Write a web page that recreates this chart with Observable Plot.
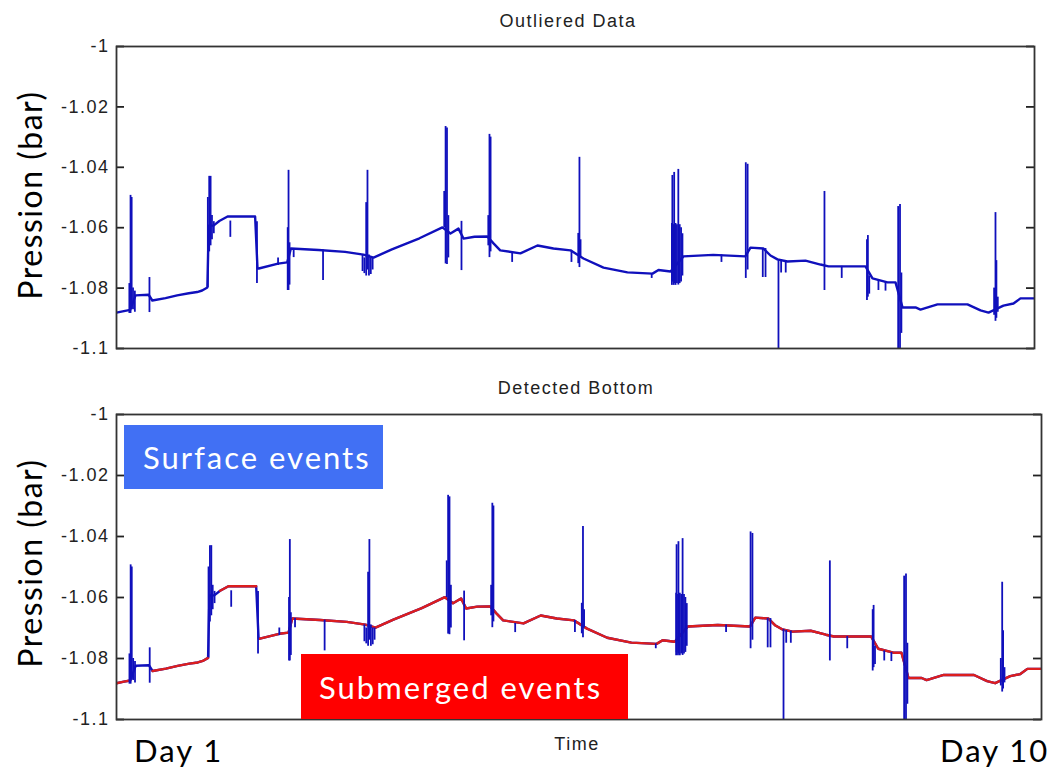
<!DOCTYPE html>
<html><head><meta charset="utf-8">
<script src="https://cdn.jsdelivr.net/npm/d3@7"></script>
<script src="https://cdn.jsdelivr.net/npm/@observablehq/plot@0.6"></script>
<style>
body{margin:0;background:#fff;}
#wrap{position:relative;width:1059px;height:771px;overflow:hidden;background:#fff;}
.panel{position:absolute;left:0;}
.mt{position:absolute;font-family:"Liberation Sans",Arial,sans-serif;font-size:18px;letter-spacing:1.5px;color:#222;transform:translateX(-50%);white-space:nowrap;}
.ylab{position:absolute;font-family:Lato,"Open Sans",sans-serif;font-size:32px;letter-spacing:1.5px;color:#000;transform:translate(-50%,-50%) rotate(-90deg);white-space:nowrap;}
.box{position:absolute;color:#fff;font-family:Lato,"Open Sans",sans-serif;font-size:31px;letter-spacing:2px;display:flex;align-items:center;box-sizing:border-box;white-space:nowrap;}
.day{position:absolute;font-family:Lato,"Open Sans",sans-serif;font-size:31px;letter-spacing:2px;color:#000;white-space:nowrap;}
</style></head>
<body>
<div id="wrap">
  <div id="p1" class="panel" style="top:0px"></div>
  <div id="p2" class="panel" style="top:370px"></div>
  <div class="mt" style="left:568px;top:11px">Outliered Data</div>
  <div class="mt" style="left:576px;top:378px">Detected Bottom</div>
  <div class="mt" style="left:577px;top:734px">Time</div>
  <div class="ylab" style="left:29px;top:195px">Pression (bar)</div>
  <div class="ylab" style="left:29px;top:563px">Pression (bar)</div>
  <div class="box" style="left:124px;top:425px;width:259px;height:64px;background:#4170f4;padding-left:19px">Surface events</div>
  <div class="box" style="left:301px;top:654px;width:327px;height:65px;background:#ff0000;padding-left:18px">Submerged events</div>
  <div class="day" style="left:134px;top:731px">Day 1</div>
  <div class="day" style="left:940px;top:731px">Day 10</div>
</div>
<script>
// Time index (0 = start of record, 1000 = end), pressure in bar
const baseT = [0, 8, 15, 20.7, 35, 39, 53.4, 66.1, 78.8, 87.9, 93.3, 99, 100.5, 105.7, 112, 121, 151, 153.6, 155, 176, 186, 190, 220, 249, 269, 280, 300, 330, 355, 363.8, 372.5, 378, 390, 404, 410.7, 418, 440, 458.6, 476, 494.5, 508.7, 530.5, 556.6, 583.9, 590.4, 603.5, 617.6, 650, 685, 690.6, 704.8, 712.4, 720, 730.9, 750.5, 766.9, 775.6, 815.9, 823.5, 839.9, 848.6, 856.2, 870.4, 875.8, 894.3, 927, 941.2, 949.9, 966.2, 977.1, 984.7, 1000];
const baseP = [-1.0881, -1.0876, -1.0872, -1.0824, -1.0822, -1.0841, -1.0833, -1.0824, -1.0817, -1.0813, -1.0808, -1.0798, -1.0593, -1.0593, -1.0578, -1.0563, -1.0563, -1.0735, -1.0735, -1.0719, -1.0715, -1.0669, -1.0674, -1.0680, -1.0689, -1.0699, -1.0672, -1.0635, -1.0599, -1.0619, -1.0603, -1.0636, -1.0630, -1.0629, -1.0652, -1.0675, -1.0685, -1.0659, -1.0669, -1.0675, -1.0702, -1.0732, -1.0748, -1.0752, -1.0740, -1.0745, -1.0695, -1.0690, -1.0695, -1.0666, -1.0669, -1.0692, -1.0705, -1.0712, -1.0709, -1.0722, -1.0728, -1.0728, -1.0768, -1.0781, -1.0781, -1.0864, -1.0864, -1.0871, -1.0854, -1.0854, -1.0874, -1.0881, -1.0858, -1.0851, -1.0834, -1.0834];
// "B" = submerged (bottom detected), "S" = surface
const baseState = ["B","B","B","S","S","B","B","B","B","B","B","B","S","S","B","B","B","S","B","B","B","B","B","B","B","B","B","B","B","B","B","B","B","B","B","B","B","B","B","B","B","B","B","B","B","B","B","B","B","B","B","B","B","B","B","B","B","B","B","B","B","B","B","B","B","B","B","B","B","B","B","B"];

// Surface events and outliers: vertical excursions (time, lowest pressure, highest pressure)
const spikeT    = [14, 15.3, 16.5, 18, 20, 35.9, 99.5, 101, 102.5, 104, 106, 124, 153, 176, 186.5, 187.4, 188.5, 193, 225, 268, 270, 272, 273.4, 275, 277, 279, 357, 358.5, 360, 361.5, 375.8, 405, 406.3, 407.5, 431, 495.6, 503, 504.3, 505.5, 583, 605, 605.5, 607, 607.5, 609, 610.5, 612, 613.5, 615, 616.5, 659, 685.5, 687.5, 704, 707, 721.1, 724, 729, 771.2, 790, 817.5, 818.5, 820, 830, 837.7, 851.5, 853.5, 855, 956, 957.5, 958.5, 960];
const spikeLow  = [-1.0884, -1.0884, -1.0870, -1.0872, -1.0880, -1.0881, -1.0798, -1.0680, -1.0660, -1.0640, -1.0620, -1.0632, -1.0785, -1.0725, -1.0808, -1.0808, -1.0790, -1.0699, -1.0775, -1.0745, -1.0752, -1.0760, -1.0740, -1.0760, -1.0755, -1.0740, -1.0600, -1.0720, -1.0722, -1.0700, -1.0742, -1.0660, -1.0699, -1.0680, -1.0715, -1.0715, -1.0719, -1.0732, -1.0700, -1.0768, -1.0791, -1.0780, -1.0791, -1.0785, -1.0791, -1.0785, -1.0790, -1.0785, -1.0780, -1.0760, -1.0715, -1.0768, -1.0740, -1.0765, -1.0765, -1.1000, -1.0750, -1.0750, -1.0808, -1.0768, -1.0841, -1.0830, -1.0820, -1.0808, -1.0810, -1.1000, -1.1000, -1.0950, -1.0890, -1.0910, -1.0900, -1.0880];
const spikeHigh = [-1.0785, -1.0493, -1.0500, -1.0800, -1.0810, -1.0765, -1.0500, -1.0430, -1.0430, -1.0560, -1.0580, -1.0578, -1.0580, -1.0700, -1.0600, -1.0410, -1.0650, -1.0669, -1.0674, -1.0690, -1.0700, -1.0517, -1.0410, -1.0690, -1.0700, -1.0700, -1.0480, -1.0265, -1.0270, -1.0560, -1.0579, -1.0560, -1.0291, -1.0300, -1.0685, -1.0675, -1.0619, -1.0367, -1.0640, -1.0752, -1.0586, -1.0427, -1.0590, -1.0417, -1.0586, -1.0590, -1.0407, -1.0590, -1.0600, -1.0620, -1.0690, -1.0385, -1.0390, -1.0669, -1.0669, -1.0705, -1.0708, -1.0710, -1.0480, -1.0728, -1.0640, -1.0626, -1.0760, -1.0775, -1.0780, -1.0530, -1.0523, -1.0750, -1.0800, -1.0550, -1.0709, -1.0830];

const yTicks = [-1, -1.02, -1.04, -1.06, -1.08, -1.1];
const yTickLabels = ["-1", "-1.02", "-1.04", "-1.06", "-1.08", "-1.1"];

const base = baseT.map((t, i) => ({t, p: baseP[i], s: baseState[i]}));
const spikes = spikeT.map((t, i) => ({t, low: spikeLow[i], high: spikeHigh[i]}));

const BLUE = "#1010bc";
const RED = "#dc1e1e";
const TICK = 8;

function panel(opts, bottom) {
  const fmt = d => yTickLabels[yTicks.findIndex(v => Math.abs(v - d) < 1e-9)];
  const innerW = 1059 - 116 - opts.mr;
  return Plot.plot({
    width: 1059, height: 360,
    marginLeft: 116, marginRight: opts.mr, marginTop: opts.mt, marginBottom: opts.mb,
    x: {domain: [0, 1000], axis: null},
    y: {domain: [-1.1, -1], label: null},
    style: {fontFamily: "'Liberation Sans', Arial, sans-serif", fontSize: "18px", letterSpacing: "1.5px", color: "#222", background: "transparent"},
    marks: [
      Plot.line(base, {x: "t", y: "p", stroke: BLUE, strokeWidth: 2.4, clip: true}),
      bottom ? Plot.line(base, {x: "t", y: d => d.s === "S" ? NaN : d.p, stroke: RED, strokeWidth: 2.4, clip: true}) : null,
      Plot.ruleX(spikes, {x: "t", y1: "low", y2: "high", stroke: BLUE, strokeWidth: 1.8, clip: true}),
      Plot.ruleY(yTicks, {y: d => d, insetRight: innerW - TICK, stroke: "#222", strokeWidth: 1.8}),
      Plot.ruleY(yTicks, {y: d => d, insetLeft: innerW - TICK, stroke: "#222", strokeWidth: 1.8}),
      Plot.frame({stroke: "#333", strokeWidth: 1.8}),
      Plot.axisY({anchor: "left", ticks: yTicks, tickSize: 0, tickPadding: 7, tickFormat: fmt, label: null, fontSize: 18, fill: "#222"})
    ]
  });
}

document.getElementById("p1").appendChild(panel({mr: 25, mt: 46, mb: 12}, false));
document.getElementById("p2").appendChild(panel({mr: 18, mt: 44, mb: 11}, true));
</script>
</body></html>
